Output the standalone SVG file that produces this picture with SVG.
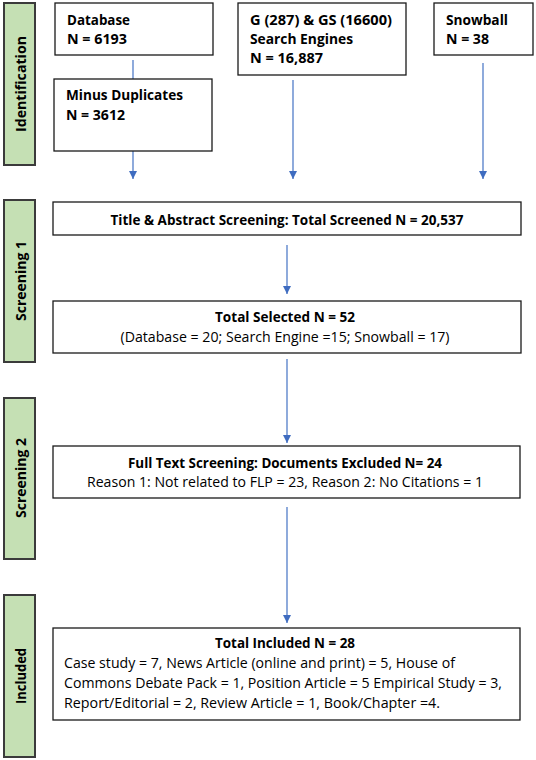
<svg xmlns="http://www.w3.org/2000/svg" width="536" height="760" viewBox="0 0 536 760">
<style>
.side{fill:#c5e0b4;stroke:#3b3b3b;stroke-width:2}
.box{fill:#fff;stroke:#1a1a1a;stroke-width:1.3}
text{font-family:"Open Sans","Noto Sans","Liberation Sans",sans-serif;font-size:14px;fill:#000}
.b{font-weight:bold}
.st{font-weight:bold;font-size:14px}
.c{text-anchor:middle}
.conn{stroke:#4472c4;stroke-width:1.2;fill:none}
</style>
<defs>
<marker id="ah" viewBox="0 0 10 10" refX="10" refY="5" markerWidth="8" markerHeight="8" markerUnits="userSpaceOnUse" orient="auto">
<path d="M0,0 L10,5 L0,10 z" fill="#3f6cc0"/>
</marker>
</defs>
<rect width="536" height="760" fill="#fff"/>
<g id="stage-identification">
<rect class="side" x="4" y="3" width="31" height="162"/>
<text class="st c" transform="translate(26,84) rotate(-90)" textLength="96" lengthAdjust="spacingAndGlyphs">Identification</text>
</g>
<g id="stage-screening1">
<rect class="side" x="4" y="200" width="31" height="162"/>
<text class="st c" transform="translate(26,281) rotate(-90)" textLength="80" lengthAdjust="spacingAndGlyphs">Screening 1</text>
</g>
<g id="stage-screening2">
<rect class="side" x="4" y="398" width="31" height="161"/>
<text class="st c" transform="translate(26,478) rotate(-90)" textLength="80" lengthAdjust="spacingAndGlyphs">Screening 2</text>
</g>
<g id="stage-included">
<rect class="side" x="4" y="595" width="31" height="162"/>
<text class="st c" transform="translate(26,676) rotate(-90)" textLength="56" lengthAdjust="spacingAndGlyphs">Included</text>
</g>
<g id="connectors">
<line class="conn" x1="133" y1="60" x2="133" y2="79"/>
<line class="conn" x1="133" y1="151" x2="133" y2="179" marker-end="url(#ah)"/>
<line class="conn" x1="293" y1="80" x2="293" y2="179" marker-end="url(#ah)"/>
<line class="conn" x1="483" y1="63" x2="483" y2="179" marker-end="url(#ah)"/>
<line class="conn" x1="287" y1="245" x2="287" y2="294" marker-end="url(#ah)"/>
<line class="conn" x1="287" y1="359" x2="287" y2="443" marker-end="url(#ah)"/>
<line class="conn" x1="287" y1="507" x2="287" y2="623" marker-end="url(#ah)"/>
</g>
<g id="database">
<rect class="box" x="55" y="3" width="158" height="52"/>
<text class="b" x="67" y="25" textLength="63" lengthAdjust="spacingAndGlyphs">Database</text>
<text class="b" x="67" y="44" textLength="60" lengthAdjust="spacingAndGlyphs">N = 6193</text>
</g>
<g id="minus-duplicates">
<rect class="box" x="54" y="79" width="158" height="72"/>
<text class="b" x="66" y="100" textLength="117" lengthAdjust="spacingAndGlyphs">Minus Duplicates</text>
<text class="b" x="66" y="120" textLength="59" lengthAdjust="spacingAndGlyphs">N = 3612</text>
</g>
<g id="search-engines">
<rect class="box" x="238" y="3" width="168" height="72"/>
<text class="b" x="250" y="25" textLength="142" lengthAdjust="spacingAndGlyphs">G (287) &amp; GS (16600)</text>
<text class="b" x="250" y="44" textLength="103" lengthAdjust="spacingAndGlyphs">Search Engines</text>
<text class="b" x="250" y="63" textLength="73" lengthAdjust="spacingAndGlyphs">N = 16,887</text>
</g>
<g id="snowball">
<rect class="box" x="434" y="3" width="99" height="52"/>
<text class="b" x="446" y="25" textLength="62" lengthAdjust="spacingAndGlyphs">Snowball</text>
<text class="b" x="446" y="44" textLength="43" lengthAdjust="spacingAndGlyphs">N = 38</text>
</g>
<g id="title-abstract">
<rect class="box" x="53" y="202" width="468" height="33"/>
<text class="b c" x="287" y="225" textLength="353" lengthAdjust="spacingAndGlyphs">Title &amp; Abstract Screening: Total Screened N = 20,537</text>
</g>
<g id="total-selected">
<rect class="box" x="53" y="301" width="468" height="52"/>
<text class="b c" x="285" y="322" textLength="140" lengthAdjust="spacingAndGlyphs">Total Selected N = 52</text>
<text class="c" x="285" y="342" textLength="329" lengthAdjust="spacingAndGlyphs">(Database = 20; Search Engine =15; Snowball = 17)</text>
</g>
<g id="full-text">
<rect class="box" x="53" y="446" width="467" height="52"/>
<text class="b c" x="285" y="468" textLength="314" lengthAdjust="spacingAndGlyphs">Full Text Screening: Documents Excluded N= 24</text>
<text class="c" x="285" y="487" textLength="396" lengthAdjust="spacingAndGlyphs">Reason 1: Not related to FLP = 23, Reason 2: No Citations = 1</text>
</g>
<g id="total-included">
<rect class="box" x="53" y="628" width="467" height="92"/>
<text class="b c" x="285" y="648" textLength="140" lengthAdjust="spacingAndGlyphs">Total Included N = 28</text>
<text x="64" y="668" textLength="391" lengthAdjust="spacingAndGlyphs">Case study = 7, News Article (online and print) = 5, House of</text>
<text x="64" y="688" textLength="438" lengthAdjust="spacingAndGlyphs">Commons Debate Pack = 1, Position Article = 5 Empirical Study = 3,</text>
<text x="64" y="708" textLength="376" lengthAdjust="spacingAndGlyphs">Report/Editorial = 2, Review Article = 1, Book/Chapter =4.</text>
</g>
</svg>
